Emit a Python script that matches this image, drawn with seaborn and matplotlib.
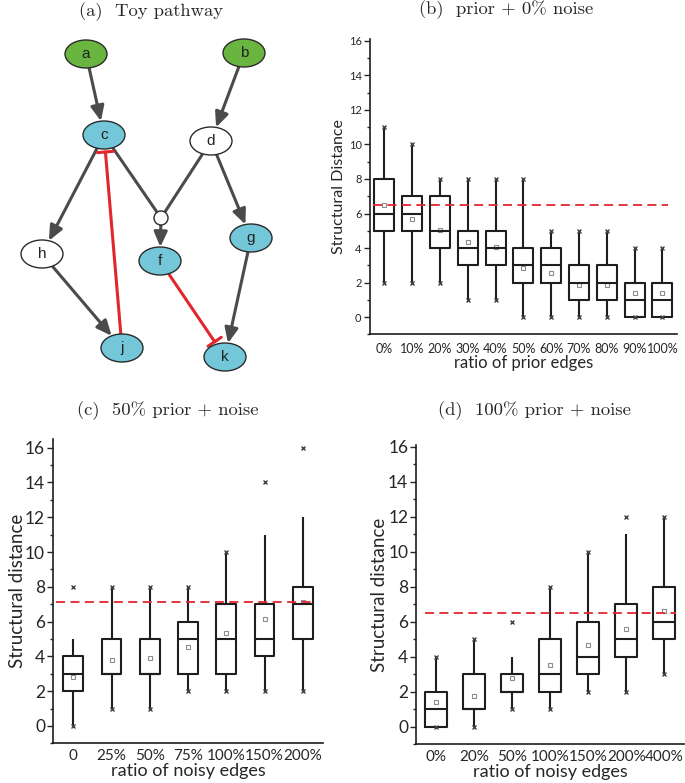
import numpy as np
import pandas as pd
import matplotlib
matplotlib.use("Agg")
import matplotlib.pyplot as plt
import seaborn as sns
from matplotlib.patches import Ellipse, Circle, FancyArrowPatch, ArrowStyle
from matplotlib.ticker import MultipleLocator

# ---- (a) toy pathway: nodes and edges ----
node_names = ['a', 'b', 'c', 'd', 'h', 'f', 'g', 'j', 'k']
source_nodes = ['a', 'b']
hit_nodes = ['c', 'f', 'g', 'j', 'k']
act_edges = [('a', 'c'), ('b', 'd'), ('c', 'h'), ('J', 'f'), ('d', 'g'), ('h', 'j'), ('g', 'k')]
join_edges = [('c', 'J'), ('d', 'J')]
inh_edges = [('j', 'c'), ('f', 'k')]

# ---- (b) prior + 0% noise ----
b_cats = ['0%', '10%', '20%', '30%', '40%', '50%', '60%', '70%', '80%', '90%', '100%']
b_low = [2, 2, 2, 1, 1, 0, 0, 0, 0, 0, 0]
b_q1 = [5, 5, 4, 3, 3, 2, 2, 1, 1, 0, 0]
b_med = [6, 6, 5, 4, 4, 3, 3, 2, 2, 1, 1]
b_q3 = [8, 7, 7, 5, 5, 4, 4, 3, 3, 2, 2]
b_high = [11, 10, 8, 8, 8, 8, 5, 5, 5, 4, 4]
b_mean = [6.52, 5.7, 5.02, 4.33, 4.08, 2.82, 2.53, 1.86, 1.84, 1.38, 1.38]
b_min = [2, 2, 2, 1, 1, 0, 0, 0, 0, 0, 0]
b_max = [11, 10, 8, 8, 8, 8, 5, 5, 5, 4, 4]
b_ref = 6.5

# ---- (c) 50% prior + noise ----
c_cats = ['0', '25%', '50%', '75%', '100%', '150%', '200%']
c_low = [0, 1, 1, 2, 2, 2, 2]
c_q1 = [2, 3, 3, 3, 3, 4, 5]
c_med = [3, 3, 3, 5, 5, 5, 7]
c_q3 = [4, 5, 5, 6, 7, 7, 8]
c_high = [5, 8, 8, 8, 10, 11, 12]
c_mean = [2.84, 3.77, 3.89, 4.54, 5.33, 6.17, 7.11]
c_min = [0, 1, 1, 2, 2, 2, 2]
c_max = [8, 8, 8, 8, 10, 14, 16]
c_ref = 7.1

# ---- (d) 100% prior + noise ----
d_cats = ['0%', '20%', '50%', '100%', '150%', '200%', '400%']
d_low = [0, 0, 1, 1, 2, 2, 3]
d_q1 = [0, 1, 2, 2, 3, 4, 5]
d_med = [1, 1, 2, 3, 4, 5, 6]
d_q3 = [2, 3, 3, 5, 6, 7, 8]
d_high = [4, 5, 4, 8, 10, 11, 12]
d_mean = [1.43, 1.74, 2.79, 3.53, 4.68, 5.55, 6.58]
d_min = [0, 0, 1, 1, 2, 2, 3]
d_max = [4, 5, 6, 8, 10, 12, 12]
d_ref = 6.5

sns.set_style("ticks")
plt.rcParams['font.family'] = ['Lato', 'DejaVu Sans']

fig = plt.figure(figsize=(6.85, 7.83), dpi=100)

# titles (computer modern, like the paper)
title_kw = dict(family='cmr10', fontsize=13.4, ha='center', va='center')
fig.text(151 / 685, 1 - 12 / 783, '(a)  Toy pathway', **title_kw)
fig.text(506 / 685, 1 - 10 / 783, '(b)  prior + 0% noise', **title_kw)
fig.text(168 / 685, 1 - 411 / 783, '(c)  50% prior + noise', **title_kw)
fig.text(534 / 685, 1 - 411 / 783, '(d)  100% prior + noise', **title_kw)

# ---------- panel (a) ----------
axg = fig.add_axes([0, 1 - 400 / 783, 340 / 685, 380 / 783])
axg.set_xlim(0, 340)
axg.set_ylim(400, 20)
axg.axis('off')

pos = {'a': (86, 54), 'b': (244, 53), 'c': (104, 135), 'd': (211, 141),
       'J': (161, 218), 'h': (42, 254), 'f': (160, 261), 'g': (251, 238),
       'j': (122, 348), 'k': (225, 357)}
rx, ry, rj = 21, 14, 7


def rim(n, other):
    c = np.array(pos[n], float)
    u = np.array(pos[other], float) - c
    u /= np.hypot(*u)
    if n == 'J':
        return c + rj * u
    t = 1 / np.sqrt((u[0] / rx) ** 2 + (u[1] / ry) ** 2)
    return c + t * u


edge_col = '#4b4b4b'
for s, t in act_edges:
    axg.add_patch(FancyArrowPatch(rim(s, t), rim(t, s),
                                  arrowstyle=ArrowStyle('-|>', head_length=0.9, head_width=0.4),
                                  mutation_scale=10, lw=2.2, color=edge_col,
                                  shrinkA=0, shrinkB=0, zorder=1))
for s, t in join_edges:
    p0, p1 = rim(s, t), rim(t, s)
    axg.plot([p0[0], p1[0]], [p0[1], p1[1]], color=edge_col, lw=2.2, zorder=1,
             solid_capstyle='butt')

red = '#e3262c'
for s, t in inh_edges:
    p0 = rim(s, t)
    p1 = rim(t, s)
    u = (p1 - p0) / np.hypot(*(p1 - p0))
    p1 = p1 - 3 * u
    axg.plot([p0[0], p1[0]], [p0[1], p1[1]], color=red, lw=2.2, zorder=1)
    nrm = np.array([-u[1], u[0]])
    e0, e1 = p1 + 8 * nrm, p1 - 8 * nrm
    axg.plot([e0[0], e1[0]], [e0[1], e1[1]], color=red, lw=2.2, zorder=1)

for n in node_names:
    if n in source_nodes:
        fc = '#6ab440'
    elif n in hit_nodes:
        fc = '#73c7d9'
    else:
        fc = 'white'
    axg.add_patch(Ellipse(pos[n], 2 * rx, 2 * ry, fc=fc, ec='#2b2b2b', lw=1, zorder=2))
    axg.text(pos[n][0], pos[n][1], n, ha='center', va='center',
             family='Liberation Sans', fontsize=11, color='#222', zorder=3)
axg.add_patch(Circle(pos['J'], rj, fc='white', ec='#2b2b2b', lw=1, zorder=2))


# ---------- box panels ----------
def box_panel(ax, cats, low, q1, med, q3, high, mean, vmin, vmax, ref, width,
              ylab, xlab, ytick_fs, xtick_fs, ylab_fs, xlab_fs, ytop, ref_span,
              ylpad, xtpad, xl_y):
    vals = np.column_stack([low, q1, med, q3, high]).ravel()
    df = pd.DataFrame({'cat': np.repeat(cats, 5), 'val': vals})
    sns.boxplot(data=df, x='cat', y='val', order=cats, ax=ax, whis=(0, 100),
                width=width, fill=False, color='#1e1e1e', linewidth=1.5,
                showcaps=False, showfliers=False)
    xs = np.arange(len(cats))
    ax.plot(xs, mean, 's', ms=3, mfc='none', mec='#8c8c8c', mew=0.8, ls='none')
    ax.plot(np.r_[xs, xs], np.r_[vmin, vmax], 'x', ms=3.5, mec='#444444', mew=1, ls='none')
    ax.axhline(ref, xmin=ref_span[0], xmax=ref_span[1], color=red, lw=1.3,
               ls=(0, (5, 3)), zorder=4)
    ax.set_xlim(-0.52, len(cats) - 0.48)
    ax.set_ylim(-1, ytop)
    ax.yaxis.set_major_locator(MultipleLocator(2))
    ax.yaxis.set_minor_locator(MultipleLocator(1))
    ax.tick_params(axis='y', which='major', length=4, width=1, labelsize=ytick_fs, pad=2)
    ax.tick_params(axis='y', which='minor', length=2, width=1)
    ax.tick_params(axis='x', length=0, labelsize=xtick_fs, pad=xtpad)
    ax.set_ylabel(ylab, fontsize=ylab_fs, labelpad=ylpad)
    ax.set_xlabel(xlab, fontsize=xlab_fs)
    ax.xaxis.set_label_coords(0.5, xl_y)
    for side in ['top', 'right']:
        ax.spines[side].set_visible(False)
    for side in ['left', 'bottom']:
        ax.spines[side].set_linewidth(1.2)
        ax.spines[side].set_color('#1e1e1e')


axb = fig.add_axes([0.540, 0.573, 0.448, 0.377])
box_panel(axb, b_cats, b_low, b_q1, b_med, b_q3, b_high, b_mean, b_min, b_max, b_ref,
          0.72, 'Structural Distance', 'ratio of prior edges', 8, 9, 11.5, 12, 16.1,
          (0.01, 0.97), 2, 6, -0.07)

axc = fig.add_axes([0.078, 0.0507, 0.393, 0.3886])
box_panel(axc, c_cats, c_low, c_q1, c_med, c_q3, c_high, c_mean, c_min, c_max, c_ref,
          0.52, 'Structural distance', 'ratio of noisy edges', 12.5, 11, 13.5, 13, 16.5,
          (0.01, 0.97), -1, 4, -0.066)

axd = fig.add_axes([0.608, 0.0498, 0.3905, 0.382])
box_panel(axd, d_cats, d_low, d_q1, d_med, d_q3, d_high, d_mean, d_min, d_max, d_ref,
          0.57, 'Structural distance', 'ratio of noisy edges', 12.5, 11, 13.5, 13, 16.1,
          (0.03, 0.97), 0, 4, -0.068)

fig.savefig('out.png', dpi=100)
